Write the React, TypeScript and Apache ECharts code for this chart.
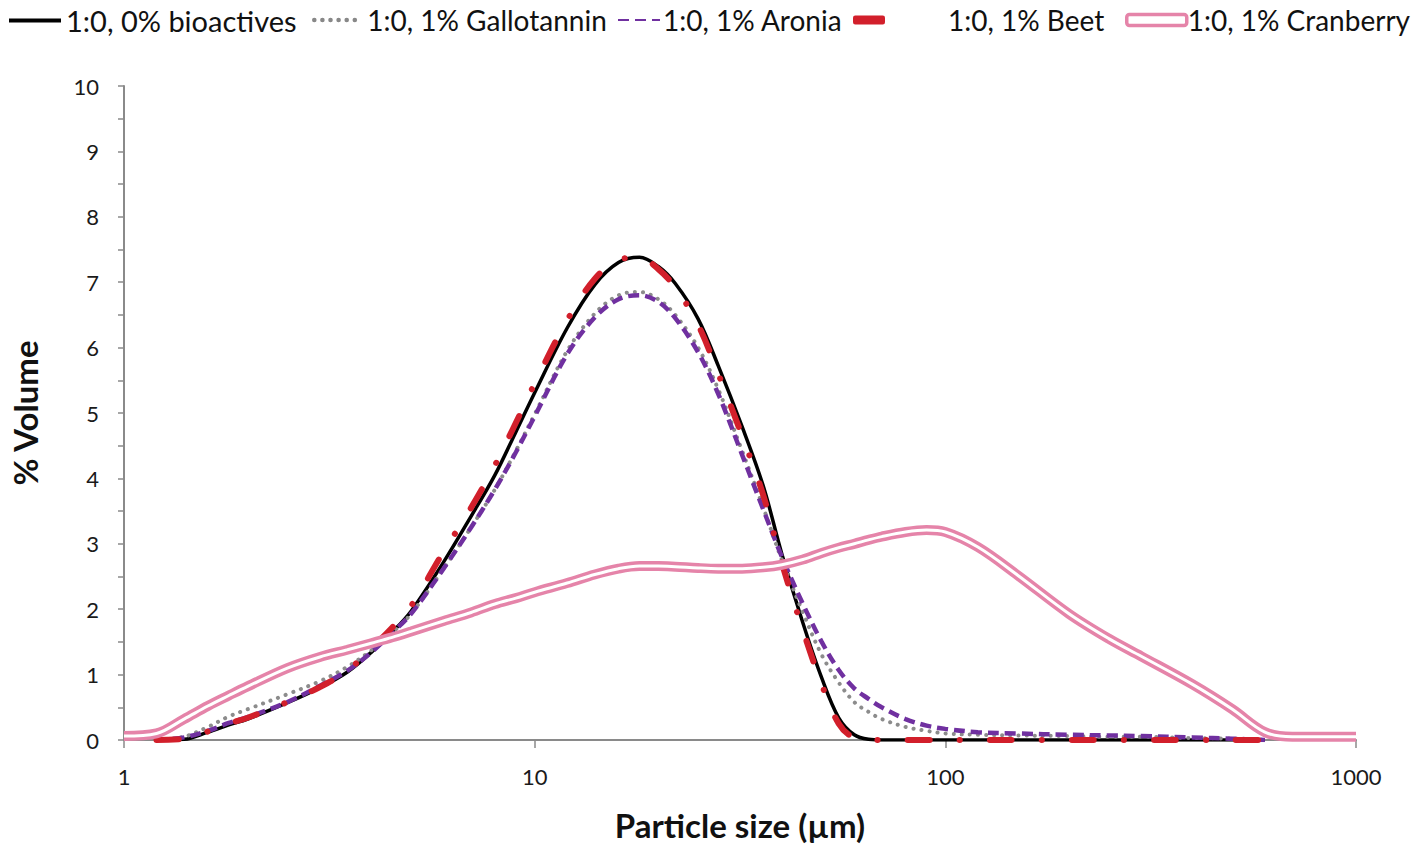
import React, { useEffect, useRef } from "react";
import * as echarts from "echarts";

const sizes = [1, 1.2, 1.4, 1.6, 1.8, 2, 2.5, 3, 3.5, 4, 4.5, 5, 6, 7, 8, 9, 10, 12, 14, 16, 18, 20, 22, 25, 28, 32, 36, 40, 45, 50, 55, 60, 65, 70, 80, 90, 100, 120, 150, 200, 250, 300, 400, 500, 600, 700, 800, 1000];

const bioactives0 = [null, 0, 0.01, 0.12, 0.23, 0.32, 0.57, 0.8, 1.04, 1.34, 1.65, 1.97, 2.72, 3.42, 4.05, 4.71, 5.31, 6.3, 6.96, 7.3, 7.38, 7.24, 6.98, 6.44, 5.72, 4.79, 3.89, 2.84, 1.79, 0.95, 0.34, 0.08, 0.01, 0, 0, 0, 0, 0, 0, 0, 0, 0, 0, 0, 0, null, null, null];
const gallotannin = [null, 0, 0.05, 0.2, 0.36, 0.47, 0.7, 0.9, 1.12, 1.37, 1.64, 1.93, 2.62, 3.25, 3.83, 4.42, 4.98, 5.95, 6.52, 6.8, 6.85, 6.74, 6.5, 6.0, 5.36, 4.42, 3.56, 2.75, 1.95, 1.3, 0.88, 0.58, 0.43, 0.32, 0.2, 0.14, 0.1, 0.08, 0.07, 0.06, 0.05, 0.05, 0.03, 0.02, 0, null, null, null];
const aronia = [null, 0, 0.04, 0.14, 0.26, 0.35, 0.58, 0.83, 1.06, 1.34, 1.64, 1.93, 2.62, 3.25, 3.83, 4.4, 4.95, 5.9, 6.46, 6.74, 6.8, 6.7, 6.45, 5.93, 5.29, 4.36, 3.53, 2.8, 2.08, 1.5, 1.07, 0.79, 0.63, 0.5, 0.32, 0.22, 0.17, 0.12, 0.1, 0.08, 0.07, 0.06, 0.04, 0.02, 0, null, null, null];
const beet = [null, 0, 0.02, 0.13, 0.25, 0.34, 0.58, 0.81, 1.06, 1.4, 1.72, 2.05, 2.88, 3.55, 4.2, 4.85, 5.45, 6.42, 7.05, 7.34, 7.38, 7.2, 6.92, 6.35, 5.6, 4.65, 3.75, 2.7, 1.68, 0.85, 0.25, 0.03, 0, 0, 0, 0, 0, 0, 0, 0, 0, 0, 0, 0, 0, null, null, null];
const cranberry = [0.06, 0.1, 0.32, 0.52, 0.68, 0.82, 1.1, 1.27, 1.38, 1.48, 1.57, 1.66, 1.82, 1.95, 2.08, 2.17, 2.26, 2.4, 2.53, 2.62, 2.66, 2.66, 2.65, 2.63, 2.62, 2.62, 2.64, 2.68, 2.76, 2.86, 2.94, 3.0, 3.06, 3.11, 3.18, 3.21, 3.18, 2.95, 2.52, 1.93, 1.55, 1.28, 0.85, 0.47, 0.12, 0.05, 0.05, 0.05];

const seriesNames = ["1:0, 0% bioactives", "1:0, 1% Gallotannin", "1:0, 1% Aronia", "1:0, 1% Beet", "1:0, 1% Cranberry"];
const xTickLabels = ["1", "10", "100", "1000"];

const FONT = "Lato, 'Open Sans', sans-serif";
const PINK = "#E584A9";
const RED = "#D21F2B";
const PURPLE = "#7030A0";
const GRAY = "#8C8C8C";

function pairs(vals: (number | null)[]) {
  const out: [number, number][] = [];
  vals.forEach((v, i) => {
    if (v !== null) out.push([sizes[i], v]);
  });
  return out;
}

export default function App() {
  const ref = useRef<HTMLDivElement>(null);
  useEffect(() => {
    if (!ref.current) return;
    const chart = echarts.init(ref.current, null, { renderer: "svg" });
    const legendText = { fontFamily: FONT, fontSize: 28, color: "#111" };
    const hideDot = { opacity: 0, color: "rgba(0,0,0,0)", borderWidth: 0 };
    const baseLine = { type: "line", showSymbol: false, symbol: "none", smooth: 0.35, silent: true };
    chart.setOption({
      animation: false,
      backgroundColor: "#fff",
      legend: [
        { data: [seriesNames[0]], left: 2, top: 1, itemWidth: 52, itemHeight: 14, itemStyle: hideDot, lineStyle: { width: 4 }, textStyle: { ...legendText, fontSize: 29 } },
        { data: [seriesNames[1]], left: 307, top: 1, itemWidth: 42, itemHeight: 14, itemStyle: hideDot, lineStyle: { width: 4.5, color: "#888" }, textStyle: { ...legendText, padding: [0, 0, 0, 6] } },
        { data: [seriesNames[2]], left: 612, top: 1, itemWidth: 42, itemHeight: 14, itemStyle: hideDot, textStyle: { ...legendText, padding: [0, 0, 0, -2] } },
        {
          data: [{ name: seriesNames[3], icon: "roundRect" }],
          left: 848, top: 1, itemWidth: 32, itemHeight: 9,
          itemStyle: { color: RED },
          textStyle: { ...legendText, padding: [0, 0, 0, 58] },
        },
        {
          data: [{ name: seriesNames[4], icon: "roundRect" }],
          left: 1120, top: 1, itemWidth: 60, itemHeight: 11,
          itemStyle: { color: "#fff", borderColor: PINK, borderWidth: 3.5 },
          textStyle: { ...legendText, padding: [0, 0, 0, -4] },
        },
      ],
      grid: { left: 121, right: 62, top: 86, bottom: 101, containLabel: false },
      xAxis: {
        type: "log",
        logBase: 10,
        min: 1,
        max: 1000,
        name: "Particle size (µm)",
        nameLocation: "middle",
        nameGap: 68,
        nameTextStyle: { fontFamily: FONT, fontSize: 33, fontWeight: "bold", color: "#111" },
        axisLine: { lineStyle: { color: "#8a8a8a", width: 2 } },
        axisTick: { show: true, length: 8, inside: false, lineStyle: { color: "#8a8a8a", width: 1.5 } },
        minorTick: { show: false },
        splitLine: { show: false },
        axisLabel: {
          fontFamily: FONT, fontSize: 22, color: "#1a1a1a", margin: 25,
          formatter: (v: number) => {
            const s = String(Math.round(v));
            return xTickLabels.includes(s) ? s : "";
          },
        },
      },
      yAxis: {
        type: "value",
        min: 0,
        max: 10,
        interval: 1,
        name: "% Volume",
        nameLocation: "middle",
        nameGap: 83,
        nameTextStyle: { fontFamily: FONT, fontSize: 33, fontWeight: "bold", color: "#111" },
        axisLine: { show: true, lineStyle: { color: "#8a8a8a", width: 2 } },
        axisTick: { show: true, length: 6, inside: false, lineStyle: { color: "#8a8a8a", width: 1.5 } },
        minorTick: { show: true, splitNumber: 2, length: 6, lineStyle: { color: "#8a8a8a", width: 1.5 } },
        splitLine: { show: false },
        axisLabel: { fontFamily: FONT, fontSize: 22, color: "#1a1a1a", margin: 25 },
      },
      series: [
        {
          ...baseLine,
          name: seriesNames[0],
          data: pairs(bioactives0),
          color: "#000",
          lineStyle: { color: "#000", width: 3.5 },
        },
        {
          ...baseLine,
          name: seriesNames[1],
          data: pairs(gallotannin),
          color: GRAY,
          lineStyle: { color: GRAY, width: 4, type: [0.1, 8], cap: "round" },
        },
        {
          ...baseLine,
          name: seriesNames[2],
          data: pairs(aronia),
          color: PURPLE,
          lineStyle: { color: PURPLE, width: 4.5, type: [11, 6], cap: "butt" },
        },
        {
          ...baseLine,
          name: seriesNames[3],
          data: pairs(beet),
          color: RED,
          lineStyle: { color: RED, width: 6, type: [22, 30, 0.1, 30], cap: "round" },
        },
        {
          ...baseLine,
          name: seriesNames[4],
          data: pairs(cranberry),
          color: PINK,
          lineStyle: { color: PINK, width: 10 },
        },
        {
          ...baseLine,
          name: "cranberry-inner",
          data: pairs(cranberry),
          color: "#fff",
          lineStyle: { color: "#fff", width: 3 },
        },
      ],
    });
    return () => chart.dispose();
  }, []);
  return (
    <div
      ref={ref}
      style={{ position: "absolute", left: 0, top: 0, width: 1418, height: 846, background: "#fff" }}
    />
  );
}
